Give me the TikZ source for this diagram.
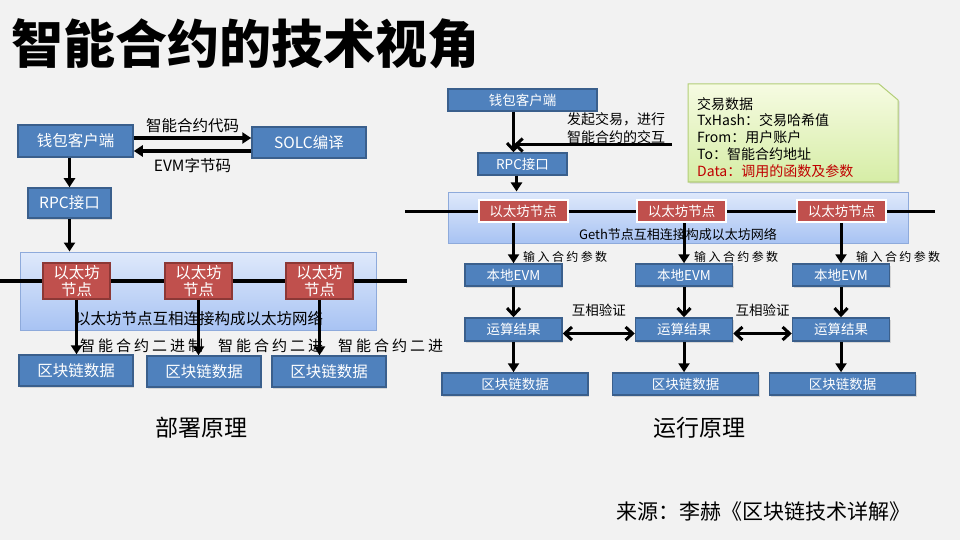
\documentclass[tikz,border=0pt]{standalone}
\usepackage{fontspec}
\setmainfont{Noto Sans CJK SC}
\newfontfamily\cjkwide[LetterSpace=20]{Noto Sans CJK SC}
\usetikzlibrary{arrows.meta,shadows}

\definecolor{pagebg}{HTML}{F2F2F2}
\definecolor{boxblue}{HTML}{4F81BD}
\definecolor{boxline}{HTML}{3A5F8C}
\definecolor{nodered}{HTML}{C0504D}
\definecolor{nodeline}{HTML}{8C3836}
\definecolor{nettop}{HTML}{DFE9FB}
\definecolor{netbot}{HTML}{A8C3F3}
\definecolor{netline}{HTML}{8EAADB}
\definecolor{notetop}{HTML}{F6FBE2}
\definecolor{notebot}{HTML}{D6EDA6}
\definecolor{noteline}{HTML}{B3CE78}
\definecolor{datared}{HTML}{C00000}

\begin{document}
\begin{tikzpicture}[x=1pt, y=-1pt]

    % Styles for boxes, labels and arrows
    \tikzset{
      bluebox/.style={draw=boxline, fill=boxblue, line width=1.5pt, text=white,
        inner sep=0pt, drop shadow={opacity=0.25, shadow xshift=1pt, shadow yshift=-1.5pt}},
      redbox/.style={draw=nodeline, fill=nodered, line width=1.5pt, text=white,
        inner sep=0pt, align=center},
      netbox/.style={draw=netline, line width=1pt, top color=nettop, bottom color=netbot},
      lbl/.style={inner sep=1pt, align=center},
      arr/.style={line width=3.5pt, -{Triangle[length=9pt, width=11pt]}},
      barb/.style={line width=3pt, -{Straight Barb[length=7pt, width=13pt, line width=3pt]}},
      dbarb/.style={line width=3pt, {Straight Barb[length=7pt, width=13pt, line width=3pt]}-{Straight Barb[length=7pt, width=13pt, line width=3pt]}},
      wire/.style={line width=3.5pt}
    }

    % Page size and background
    \useasboundingbox[fill=pagebg] (0,0) rectangle (960,540);

    % Rows of the two diagrams
    \def\ynetL{281}   % network line, deploy side
    \def\ynetR{211}   % network line, run side

    % --- Title ---
    \node[lbl, anchor=west, font=\bfseries\fontsize{52}{60}\selectfont] (title) at (10,44) {智能合约的技术视角};

    % --- Deploy side (left) ---
    \node[bluebox, minimum width=115, minimum height=32, font=\fontsize{15.5}{18}\selectfont]
      (walletL) at (75.5,141) {钱包客户端};
    \node[bluebox, minimum width=114, minimum height=31, font=\fontsize{15.5}{18}\selectfont]
      (solc) at (309,142.5) {SOLC编译};
    \node[bluebox, minimum width=83, minimum height=30, font=\fontsize{15.5}{18}\selectfont]
      (rpcL) at (69.5,203) {RPC接口};

    \draw[arr] ([yshift=3pt]walletL.east) -- ([yshift=3pt]walletL.east -| solc.west)
      node[lbl, midway, above=2pt, font=\fontsize{15.5}{18}\selectfont] {智能合约代码};
    \draw[arr] ([yshift=-10pt]walletL.east -| solc.west) -- ([yshift=-10pt]walletL.east)
      node[lbl, midway, below=5pt, font=\fontsize{15.5}{18}\selectfont] {EVM字节码};
    \draw[arr] (rpcL.north |- walletL.south) -- (rpcL.north);

    % network of nodes
    \node[netbox, minimum width=356, minimum height=78, inner sep=0pt] (netL) at (198,291) {};
    \draw[arr] (rpcL.south) -- (rpcL.south |- netL.north);

    \coordinate (wireLa) at (0,\ynetL);
    \coordinate (wireLb) at (407,\ynetL);
    \foreach \i/\x in {1/76.5, 2/198.5, 3/319.5}
      \node[redbox, minimum width=67, minimum height=36, font=\fontsize{15.5}{16.5}\selectfont]
        (ethL\i) at (\x,\ynetL) {以太坊\\节点};
    \draw[wire] (wireLa) -- (ethL1) -- (ethL2) -- (ethL3) -- (wireLb);

    \node[lbl, font=\fontsize{15.5}{18}\selectfont] (netLlbl) at (199,319) {以太坊节点互相连接构成以太坊网络};

    % blockchain data
    \node[bluebox, minimum width=114, minimum height=31, font=\fontsize{15.5}{18}\selectfont]
      (dataL1) at (76,370.5) {区块链数据};
    \node[bluebox, minimum width=114, minimum height=31, font=\fontsize{15.5}{18}\selectfont]
      (dataL2) at (204,371.5) {区块链数据};
    \node[bluebox, minimum width=114, minimum height=31, font=\fontsize{15.5}{18}\selectfont]
      (dataL3) at (329,371.5) {区块链数据};

    \node[lbl, anchor=west, font=\cjkwide\fontsize{15}{18}\selectfont] (binL1) at (79,346) {智能合约二进制};
    \node[lbl, anchor=west, font=\cjkwide\fontsize{15}{18}\selectfont] (binL2) at (217,346) {智能合约二进};
    \node[lbl, anchor=west, font=\cjkwide\fontsize{15}{18}\selectfont] (binL3) at (337,346) {智能合约二进};

    \foreach \i in {1,2,3}
      \draw[arr] (ethL\i.south) -- (ethL\i.south |- dataL\i.north);

    \node[lbl, font=\fontsize{23}{26}\selectfont] (deploy) at (201,428) {部署原理};

    % --- Run side (right) ---
    \node[bluebox, minimum width=149, minimum height=22, font=\fontsize{13.5}{16}\selectfont]
      (walletR) at (522.5,100) {钱包客户端};
    \node[bluebox, minimum width=89, minimum height=22, font=\fontsize{13.5}{16}\selectfont]
      (rpcR) at (522.5,164) {RPC接口};
    \coordinate (txIn) at (672,145);
    \coordinate (rpcRin) at ([xshift=-9pt]rpcR.north);

    \draw[barb] (walletR.south -| rpcRin) -- (rpcRin);
    \draw[barb] (txIn) -- (txIn -| rpcRin);
    \node[lbl, anchor=north west, align=left, font=\fontsize{14}{18}\selectfont]
      (txLbl) at (566,111) {发起交易，进行\\智能合约的交互};

    % transaction data note
    \path[draw=noteline, line width=1pt, top color=notetop, bottom color=notebot,
      drop shadow={opacity=0.25, shadow xshift=1.5pt, shadow yshift=-1.5pt}]
      (688,84) -- (879,84) -- (898,100) -- (898,182) -- (688,182) -- cycle;
    \node[lbl, anchor=north west, align=left, inner sep=0pt, font=\fontsize{14}{16.8}\selectfont]
      (noteTxt) at (697,97) {交易数据\\TxHash：交易哈希值\\From：用户账户\\To：智能合约地址\\
      \textcolor{datared}{Data：调用的函数及参数}};

    % network of geth nodes
    \node[netbox, minimum width=460, minimum height=51, inner sep=0pt] (netR) at (678,217.5) {};
    \draw[arr, line width=3pt] ([xshift=-6pt]rpcR.south) -- ([xshift=-6pt]rpcR.south |- netR.north);

    \coordinate (wireRa) at (405,\ynetR);
    \coordinate (wireRb) at (935,\ynetR);
    \foreach \i/\x in {1/523, 2/681.5, 3/841.5}
      \node[redbox, draw=white, line width=2pt, minimum width=89, minimum height=22,
        font=\fontsize{13.5}{16}\selectfont] (ethR\i) at (\x,\ynetR) {以太坊节点};
    \draw[line width=3pt] (wireRa) -- (ethR1) -- (ethR2) -- (ethR3) -- (wireRb);

    \node[lbl, font=\fontsize{13}{16}\selectfont] (netRlbl) at (678,235) {Geth节点互相连接构成以太坊网络};

    % local evm, results and data
    \foreach \i/\x in {1/513.5, 2/684, 3/841} {
      \node[bluebox, minimum width=97, minimum height=22, font=\fontsize{13.5}{16}\selectfont]
        (evm\i) at (\x,275) {本地EVM};
      \node[bluebox, minimum width=97, minimum height=23, font=\fontsize{13.5}{16}\selectfont]
        (res\i) at (\x,329.5) {运算结果};
      \node[bluebox, minimum width=146, minimum height=22, font=\fontsize{13.5}{16}\selectfont]
        (dataR\i) at (\x+1.5,384) {区块链数据};
    }

    \foreach \i in {1,2,3} {
      \draw[arr, line width=3pt] (evm\i.north |- ethR\i.south) -- (evm\i.north);
      \draw[barb] (evm\i.south) -- (res\i.north);
      \draw[arr, line width=3pt] (res\i.south) -- (res\i.south |- dataR\i.north);
    }

    \node[lbl, anchor=west, font=\cjkwide\fontsize{12}{15}\selectfont] (argR1) at (522,257) {输入合约参数};
    \node[lbl, anchor=west, font=\cjkwide\fontsize{12}{15}\selectfont] (argR2) at (693,257) {输入合约参数};
    \node[lbl, anchor=west, font=\cjkwide\fontsize{12}{15}\selectfont] (argR3) at (855,257) {输入合约参数};

    \draw[dbarb] ([yshift=-4pt]res1.east) -- ([yshift=-4pt]res2.west)
      node[lbl, midway, above=14pt, font=\fontsize{13.5}{16}\selectfont] {互相验证};
    \draw[dbarb] ([yshift=-4pt]res2.east) -- ([yshift=-4pt]res3.west)
      node[lbl, midway, above=14pt, font=\fontsize{13.5}{16}\selectfont] {互相验证};

    \node[lbl, font=\fontsize{23}{26}\selectfont] (run) at (699,428) {运行原理};

    % --- Source ---
    \node[lbl, anchor=west, font=\fontsize{21}{24}\selectfont] (source) at (615,512) {来源：李赫《区块链技术详解》};
\end{tikzpicture}
\end{document}
